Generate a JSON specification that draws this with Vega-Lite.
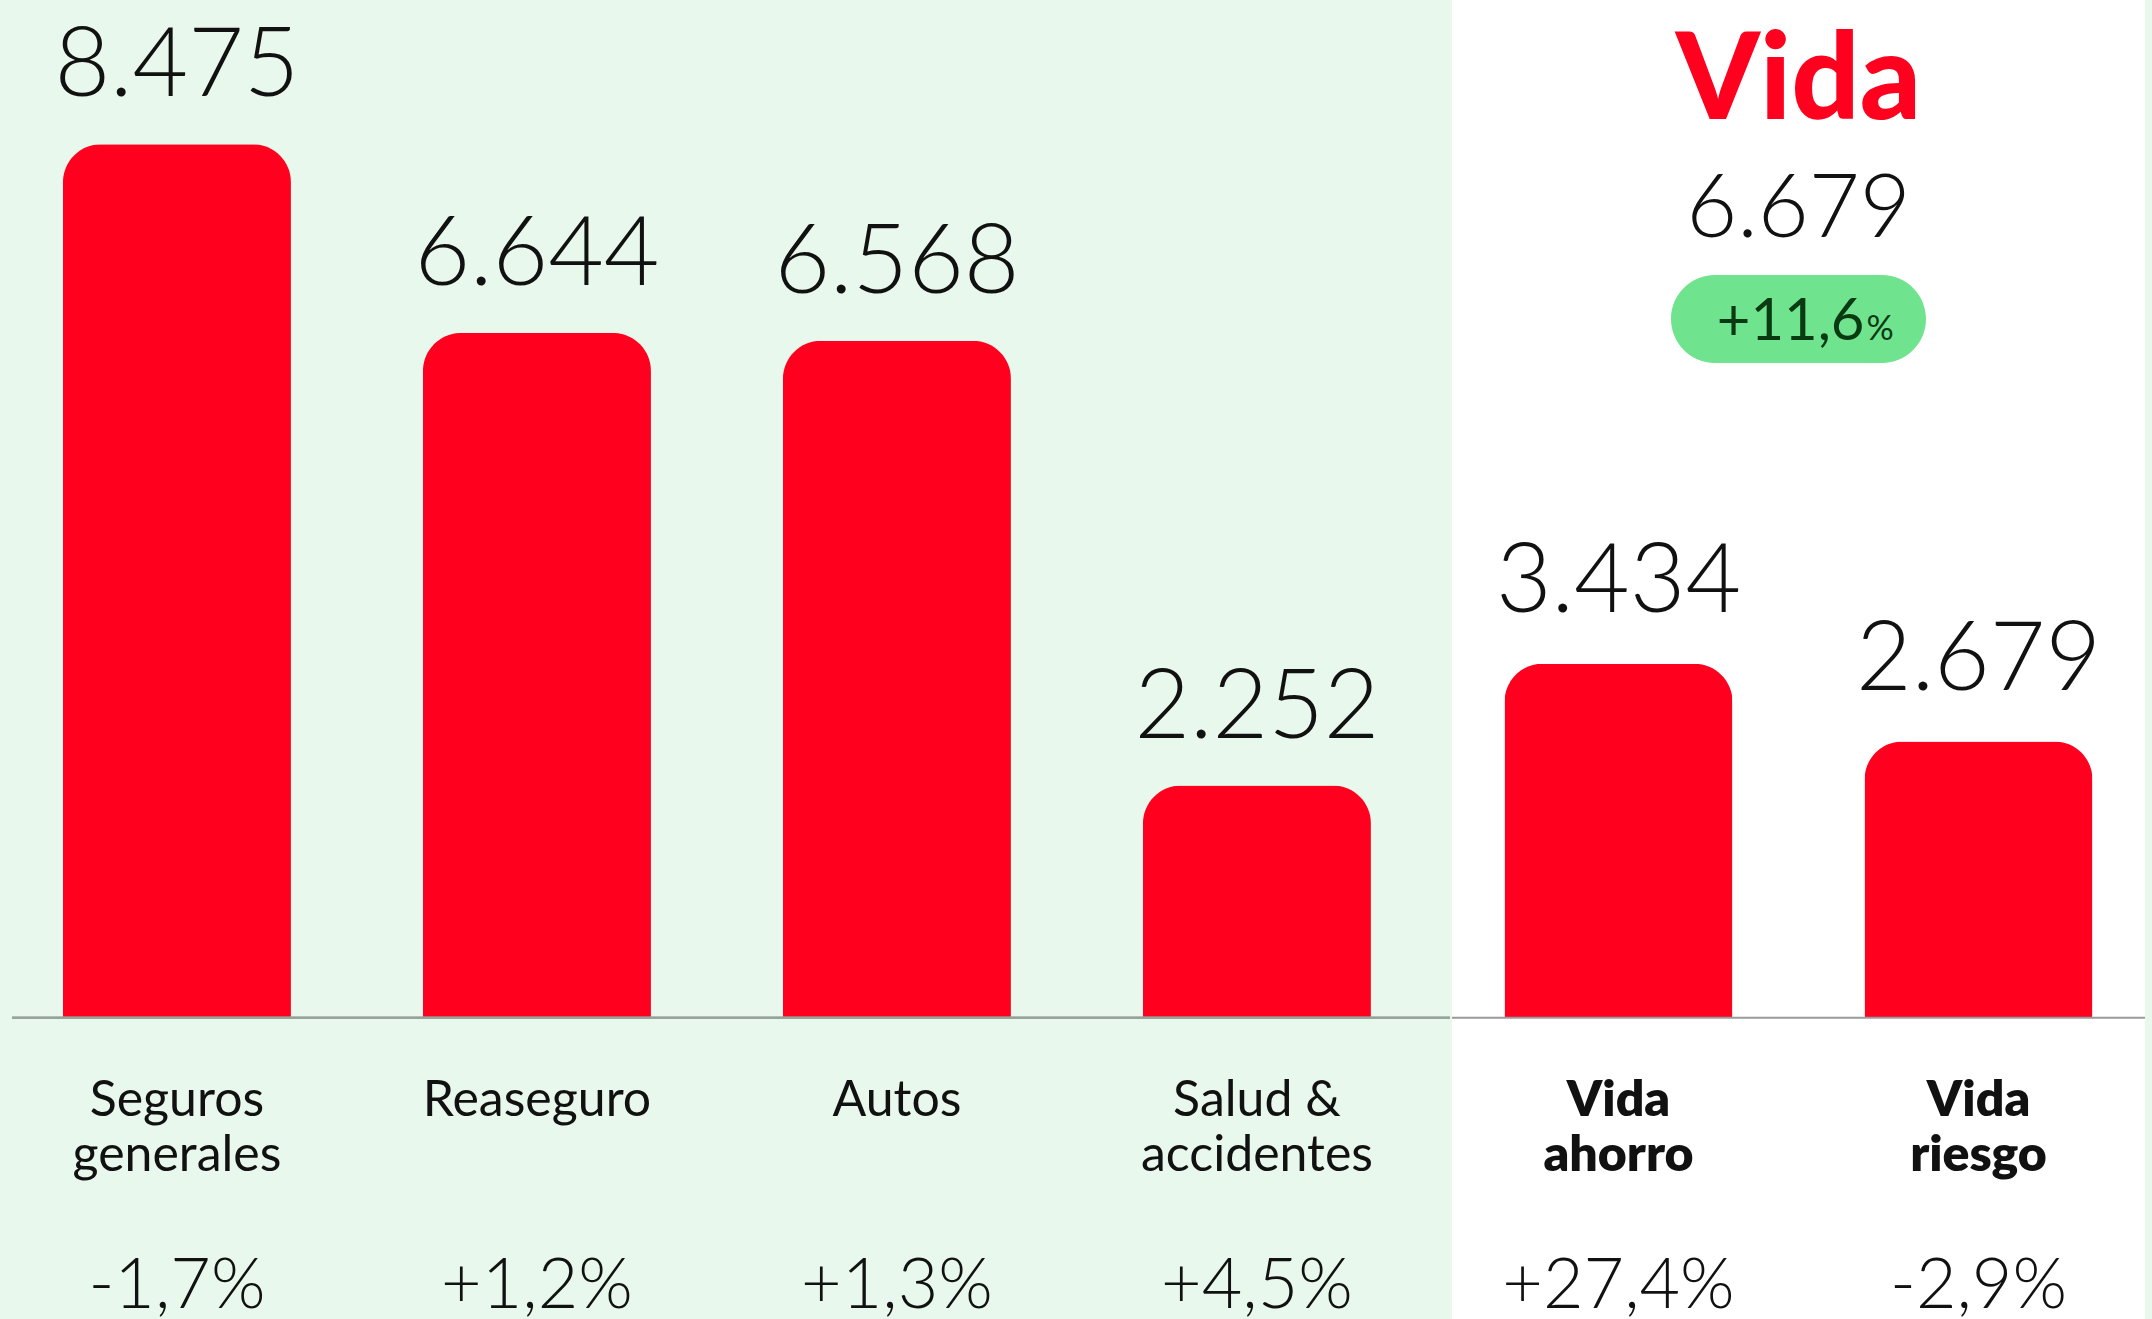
{
  "$schema": "https://vega.github.io/schema/vega-lite/v6.json",
  "background": "#E8F8EC",
  "padding": {"left": 11, "right": 10, "top": 0, "bottom": 0},
  "spacing": 0,
  "config": {
    "view": {"stroke": null},
    "text": {"font": "Lato", "color": "#111111"},
    "locale": {"number": {"decimal": ",", "thousands": ".", "grouping": [3], "currency": ["", " €"], "minus": "-"}}
  },
  "datasets": {
    "noVida": [
      {"ramo": "Seguros generales", "etiqueta": "Seguros\ngenerales", "primas": 8475, "variacion": -0.017},
      {"ramo": "Reaseguro", "etiqueta": "Reaseguro", "primas": 6644, "variacion": 0.012},
      {"ramo": "Autos", "etiqueta": "Autos", "primas": 6568, "variacion": 0.013},
      {"ramo": "Salud & accidentes", "etiqueta": "Salud &\naccidentes", "primas": 2252, "variacion": 0.045}
    ],
    "vida": [
      {"ramo": "Vida ahorro", "etiqueta": "Vida\nahorro", "primas": 3434, "variacion": 0.274},
      {"ramo": "Vida riesgo", "etiqueta": "Vida\nriesgo", "primas": 2679, "variacion": -0.029}
    ],
    "vidaTotal": [
      {"grupo": "Vida", "primas": 6679, "variacion": 0.116}
    ]
  },
  "hconcat": [
    {
      "width": 1438,
      "height": 1319,
      "data": {"name": "noVida"},
      "layer": [
        {
          "mark": {"type": "bar", "color": "#FF001E", "cornerRadiusTopLeft": 38, "cornerRadiusTopRight": 38},
          "encoding": {
            "x": {"field": "ramo", "type": "nominal", "sort": null, "axis": null, "scale": {"paddingInner": 0.3667, "paddingOuter": 0.1806, "align": 0.392}},
            "y": {"field": "primas", "type": "quantitative", "axis": null, "scale": {"domain": [-2924, 9875], "nice": false, "zero": false}}
          }
        },
        {
          "mark": {"type": "rule", "color": "#98A39B", "strokeWidth": 2},
          "encoding": {"y": {"datum": 0, "type": "quantitative"}}
        },
        {
          "mark": {"type": "text", "baseline": "alphabetic", "dy": -48, "fontSize": 96, "fontWeight": 300},
          "encoding": {
            "x": {"field": "ramo", "type": "nominal", "sort": null, "axis": null},
            "y": {"field": "primas", "type": "quantitative"},
            "text": {"field": "primas", "type": "quantitative", "format": ",.0f"}
          }
        },
        {
          "mark": {"type": "text", "baseline": "alphabetic", "fontSize": 50, "fontWeight": 400, "lineBreak": "\n", "lineHeight": 55},
          "encoding": {
            "x": {"field": "ramo", "type": "nominal", "sort": null, "axis": null},
            "y": {"datum": -954, "type": "quantitative"},
            "text": {"field": "etiqueta", "type": "nominal"}
          }
        },
        {
          "mark": {"type": "text", "baseline": "alphabetic", "fontSize": 70, "fontWeight": 300},
          "encoding": {
            "x": {"field": "ramo", "type": "nominal", "sort": null, "axis": null},
            "y": {"datum": -2817, "type": "quantitative"},
            "text": {"field": "variacion", "type": "quantitative", "format": "+.1%"}
          }
        }
      ]
    },
    {
      "width": 693,
      "height": 1319,
      "view": {"fill": "#FFFFFF", "stroke": null},
      "layer": [
        {
          "data": {"name": "vida"},
          "mark": {"type": "bar", "color": "#FF001E", "cornerRadiusTopLeft": 38, "cornerRadiusTopRight": 38},
          "encoding": {
            "x": {"field": "ramo", "type": "nominal", "sort": null, "axis": null, "scale": {"paddingInner": 0.3667, "paddingOuter": 0.1458, "align": 0.5}},
            "y": {"field": "primas", "type": "quantitative", "axis": null, "scale": {"domain": [-2924, 9875], "nice": false, "zero": false}}
          }
        },
        {
          "data": {"name": "vidaTotal"},
          "mark": {"type": "rule", "color": "#9A9A9A", "strokeWidth": 2},
          "encoding": {"y": {"datum": 0, "type": "quantitative"}}
        },
        {
          "data": {"name": "vida"},
          "mark": {"type": "text", "baseline": "alphabetic", "dy": -52, "fontSize": 96, "fontWeight": 300},
          "encoding": {
            "x": {"field": "ramo", "type": "nominal", "sort": null, "axis": null},
            "y": {"field": "primas", "type": "quantitative"},
            "text": {"field": "primas", "type": "quantitative", "format": ",.0f"}
          }
        },
        {
          "data": {"name": "vida"},
          "mark": {"type": "text", "baseline": "alphabetic", "fontSize": 50, "fontWeight": 800, "lineBreak": "\n", "lineHeight": 55},
          "encoding": {
            "x": {"field": "ramo", "type": "nominal", "sort": null, "axis": null},
            "y": {"datum": -954, "type": "quantitative"},
            "text": {"field": "etiqueta", "type": "nominal"}
          }
        },
        {
          "data": {"name": "vida"},
          "mark": {"type": "text", "baseline": "alphabetic", "fontSize": 70, "fontWeight": 300},
          "encoding": {
            "x": {"field": "ramo", "type": "nominal", "sort": null, "axis": null},
            "y": {"datum": -2817, "type": "quantitative"},
            "text": {"field": "variacion", "type": "quantitative", "format": "+.1%"}
          }
        },
        {
          "data": {"name": "vidaTotal"},
          "mark": {"type": "text", "baseline": "alphabetic", "fontSize": 120, "fontWeight": 900, "color": "#FF001E"},
          "encoding": {
            "y": {"datum": 8720, "type": "quantitative"},
            "text": {"field": "grupo", "type": "nominal"}
          }
        },
        {
          "data": {"name": "vidaTotal"},
          "mark": {"type": "text", "baseline": "alphabetic", "fontSize": 88, "fontWeight": 300},
          "encoding": {
            "y": {"datum": 7578, "type": "quantitative"},
            "text": {"field": "primas", "type": "quantitative", "format": ",.0f"}
          }
        },
        {
          "data": {"name": "vidaTotal"},
          "mark": {"type": "point", "shape": "M-0.655,-0.345L0.655,-0.345A0.345,0.345,0,0,1,0.655,0.345L-0.655,0.345A0.345,0.345,0,0,1,-0.655,-0.345Z", "size": 65025, "filled": true, "color": "#6FE38D", "opacity": 1, "strokeWidth": 0},
          "encoding": {
            "y": {"datum": 6780, "type": "quantitative"}
          }
        },
        {
          "data": {"name": "vidaTotal"},
          "mark": {"type": "text", "baseline": "alphabetic", "align": "right", "dx": 66, "fontSize": 58, "fontWeight": 400, "color": "#0A3A12", "text": {"expr": "format(datum.variacion * 100, '+.1f')"}},
          "encoding": {
            "y": {"datum": 6576, "type": "quantitative"}
          }
        },
        {
          "data": {"name": "vidaTotal"},
          "mark": {"type": "text", "baseline": "alphabetic", "align": "left", "dx": 68, "fontSize": 34, "fontWeight": 400, "color": "#0A3A12", "text": "%"},
          "encoding": {
            "y": {"datum": 6576, "type": "quantitative"}
          }
        }
      ]
    }
  ]
}
